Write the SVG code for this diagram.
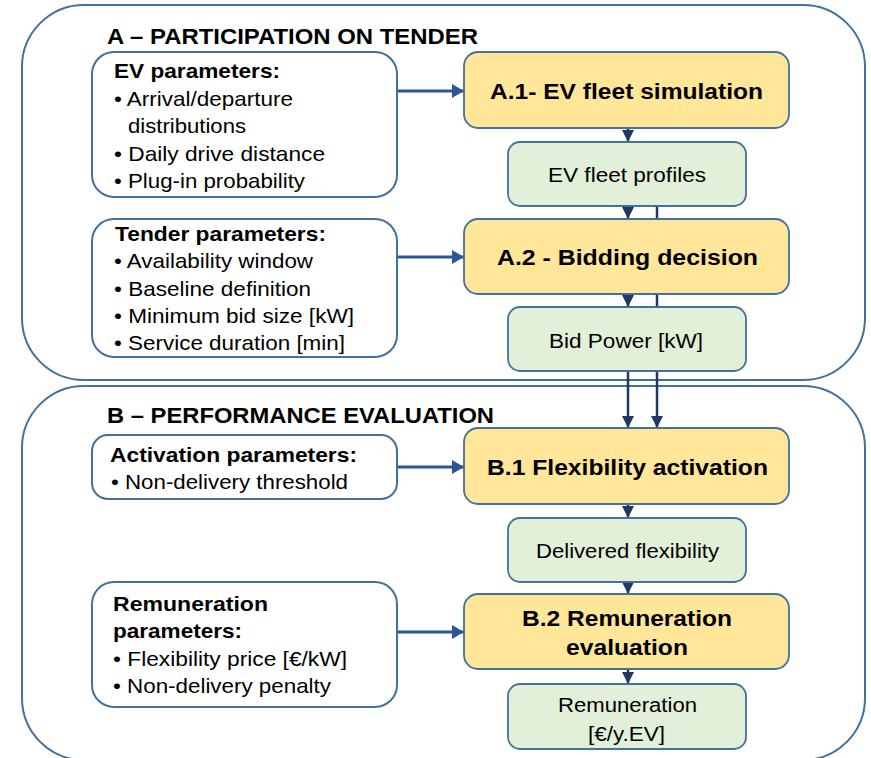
<svg xmlns="http://www.w3.org/2000/svg" width="871" height="758" viewBox="0 0 871 758">
  <defs>
    <marker id="headBlue" markerUnits="userSpaceOnUse" markerWidth="12" markerHeight="14" refX="12" refY="7" orient="auto">
      <path d="M0,0 L12,7 L0,14 z" fill="#2F5597"/>
    </marker>
    <marker id="headNavy" markerUnits="userSpaceOnUse" markerWidth="12" markerHeight="12" refX="12" refY="6" orient="auto">
      <path d="M0,0 L12,6 L0,12 z" fill="#1F3864"/>
    </marker>
  </defs>
  <style>
    .frame { fill: #ffffff; stroke: #41719C; stroke-width: 2; }
    .param { fill: #ffffff; stroke: #41719C; stroke-width: 2; }
    .step { fill: #FFE699; stroke: #41719C; stroke-width: 1.8; }
    .out { fill: #E2F0D9; stroke: #41719C; stroke-width: 1.8; }
    .title { font-family: "Liberation Sans", Arial, sans-serif; font-weight: bold; font-size: 22px; fill: #000; }
    .head { font-family: "Liberation Sans", Arial, sans-serif; font-weight: bold; font-size: 21px; fill: #000; }
    .body { font-family: "Liberation Sans", Arial, sans-serif; font-size: 21px; fill: #000; }
    .stepText { font-family: "Liberation Sans", Arial, sans-serif; font-weight: bold; font-size: 22px; fill: #000; }
    .outText { font-family: "Liberation Sans", Arial, sans-serif; font-size: 20px; fill: #000; }
    .feed { stroke: #2F5597; stroke-width: 2.8; fill: none; marker-end: url(#headBlue); }
    .flow { stroke: #1F3864; stroke-width: 2.5; fill: none; marker-end: url(#headNavy); }
  </style>

  <!-- Section frames -->
  <g id="sectionA">
    <rect class="frame" x="22" y="5" width="843" height="375" rx="62" ry="62"/>
    <text class="title" x="107" y="44" textLength="371" lengthAdjust="spacingAndGlyphs">A – PARTICIPATION ON TENDER</text>
  </g>
  <g id="sectionB">
    <rect class="frame" x="22" y="386" width="843" height="374" rx="62" ry="62"/>
    <text class="title" x="107" y="423" textLength="387" lengthAdjust="spacingAndGlyphs">B – PERFORMANCE EVALUATION</text>
  </g>

  <!-- Connectors -->
  <g id="connectors">
    <line class="feed" x1="397" y1="91" x2="464" y2="91"/>
    <line class="feed" x1="397" y1="257" x2="464" y2="257"/>
    <line class="feed" x1="397" y1="467" x2="464" y2="467"/>
    <line class="feed" x1="397" y1="632" x2="464" y2="632"/>
    <line class="flow" x1="628" y1="128" x2="628" y2="142"/>
    <line class="flow" x1="628" y1="206" x2="628" y2="219"/>
    <line class="flow" x1="628" y1="294" x2="628" y2="307"/>
    <line class="flow" x1="628" y1="371" x2="628" y2="428"/>
    <line class="flow" x1="657" y1="206" x2="657" y2="428"/>
    <line class="flow" x1="628" y1="504" x2="628" y2="518"/>
    <line class="flow" x1="628" y1="582" x2="628" y2="594"/>
    <line class="flow" x1="628" y1="669" x2="628" y2="684"/>
  </g>

  <!-- Parameter boxes -->
  <g id="evParams">
    <rect class="param" x="92" y="52" width="305" height="145" rx="22" ry="22"/>
    <text class="head" x="114" y="78" textLength="166" lengthAdjust="spacingAndGlyphs">EV parameters:</text>
    <text class="body" x="114" y="106" textLength="179" lengthAdjust="spacingAndGlyphs">• Arrival/departure</text>
    <text class="body" x="128" y="133" textLength="118" lengthAdjust="spacingAndGlyphs">distributions</text>
    <text class="body" x="114" y="161" textLength="211" lengthAdjust="spacingAndGlyphs">• Daily drive distance</text>
    <text class="body" x="114" y="188" textLength="191" lengthAdjust="spacingAndGlyphs">• Plug-in probability</text>
  </g>
  <g id="tenderParams">
    <rect class="param" x="92" y="219" width="305" height="138" rx="22" ry="22"/>
    <text class="head" x="115" y="241" textLength="211" lengthAdjust="spacingAndGlyphs">Tender parameters:</text>
    <text class="body" x="114" y="268" textLength="199" lengthAdjust="spacingAndGlyphs">• Availability window</text>
    <text class="body" x="114" y="296" textLength="197" lengthAdjust="spacingAndGlyphs">• Baseline definition</text>
    <text class="body" x="114" y="323" textLength="240" lengthAdjust="spacingAndGlyphs">• Minimum bid size [kW]</text>
    <text class="body" x="114" y="350" textLength="231" lengthAdjust="spacingAndGlyphs">• Service duration [min]</text>
  </g>
  <g id="activationParams">
    <rect class="param" x="92" y="435" width="305" height="64" rx="16" ry="16"/>
    <text class="head" x="110" y="462" textLength="247" lengthAdjust="spacingAndGlyphs">Activation parameters:</text>
    <text class="body" x="111" y="489" textLength="237" lengthAdjust="spacingAndGlyphs">• Non-delivery threshold</text>
  </g>
  <g id="remunerationParams">
    <rect class="param" x="92" y="582" width="305" height="125" rx="22" ry="22"/>
    <text class="head" x="113" y="611" textLength="155" lengthAdjust="spacingAndGlyphs">Remuneration</text>
    <text class="head" x="113" y="638" textLength="129" lengthAdjust="spacingAndGlyphs">parameters:</text>
    <text class="body" x="113" y="666" textLength="234" lengthAdjust="spacingAndGlyphs">• Flexibility price [€/kW]</text>
    <text class="body" x="113" y="693" textLength="218" lengthAdjust="spacingAndGlyphs">• Non-delivery penalty</text>
  </g>

  <!-- Process steps -->
  <g id="stepA1">
    <rect class="step" x="464" y="52" width="325" height="76" rx="14" ry="14"/>
    <text class="stepText" x="490" y="99" textLength="273" lengthAdjust="spacingAndGlyphs">A.1- EV fleet simulation</text>
  </g>
  <g id="fleetProfiles">
    <rect class="out" x="508" y="142" width="238" height="64" rx="12" ry="12"/>
    <text class="outText" x="548" y="182" textLength="158" lengthAdjust="spacingAndGlyphs">EV fleet profiles</text>
  </g>
  <g id="stepA2">
    <rect class="step" x="464" y="219" width="325" height="75" rx="14" ry="14"/>
    <text class="stepText" x="497" y="265" textLength="261" lengthAdjust="spacingAndGlyphs">A.2 - Bidding decision</text>
  </g>
  <g id="bidPower">
    <rect class="out" x="508" y="307" width="238" height="64" rx="12" ry="12"/>
    <text class="outText" x="549" y="348" textLength="154" lengthAdjust="spacingAndGlyphs">Bid Power [kW]</text>
  </g>
  <g id="stepB1">
    <rect class="step" x="464" y="428" width="325" height="76" rx="14" ry="14"/>
    <text class="stepText" x="487" y="475" textLength="281" lengthAdjust="spacingAndGlyphs">B.1 Flexibility activation</text>
  </g>
  <g id="deliveredFlex">
    <rect class="out" x="508" y="518" width="238" height="64" rx="12" ry="12"/>
    <text class="outText" x="536" y="558" textLength="183" lengthAdjust="spacingAndGlyphs">Delivered flexibility</text>
  </g>
  <g id="stepB2">
    <rect class="step" x="464" y="594" width="325" height="75" rx="14" ry="14"/>
    <text class="stepText" x="522" y="626" textLength="210" lengthAdjust="spacingAndGlyphs">B.2 Remuneration</text>
    <text class="stepText" x="566" y="655" textLength="122" lengthAdjust="spacingAndGlyphs">evaluation</text>
  </g>
  <g id="remuneration">
    <rect class="out" x="508" y="684" width="238" height="65" rx="12" ry="12"/>
    <text class="outText" x="558" y="712" textLength="139" lengthAdjust="spacingAndGlyphs">Remuneration</text>
    <text class="outText" x="588" y="741" textLength="77" lengthAdjust="spacingAndGlyphs">[€/y.EV]</text>
  </g>
</svg>
